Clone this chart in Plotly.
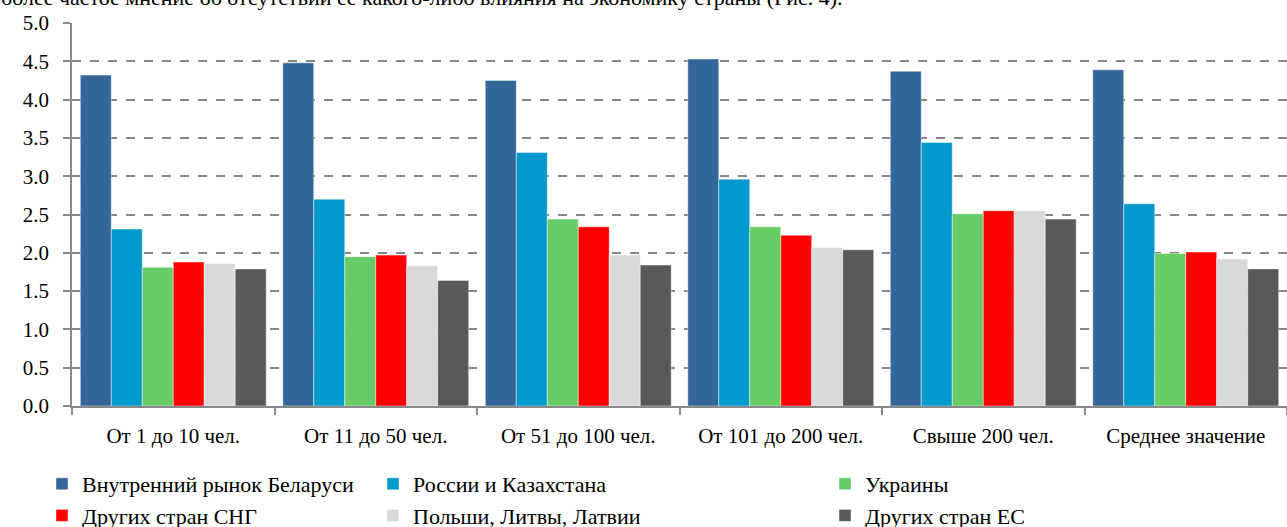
import plotly.graph_objects as go

# Company size groups (x categories)
categories = ["От 1 до 10 чел.", "От 11 до 50 чел.", "От 51 до 100 чел.",
              "От 101 до 200 чел.", "Свыше 200 чел.", "Среднее значение"]

# Mean scores per market
belarus_domestic = [4.32, 4.48, 4.25, 4.53, 4.37, 4.39]
russia_kazakhstan = [2.31, 2.70, 3.31, 2.96, 3.44, 2.64]
ukraine = [1.81, 1.95, 2.44, 2.34, 2.51, 1.99]
other_cis = [1.88, 1.97, 2.34, 2.23, 2.55, 2.01]
poland_lithuania_latvia = [1.86, 1.83, 1.97, 2.07, 2.55, 1.92]
other_eu = [1.79, 1.64, 1.84, 2.04, 2.44, 1.79]

series_names = ["Внутренний рынок Беларуси", "России и Казахстана", "Украины",
                "Других стран СНГ", "Польши, Литвы, Латвии", "Других стран ЕС"]
series_values = [belarus_domestic, russia_kazakhstan, ukraine,
                 other_cis, poland_lithuania_latvia, other_eu]
colors = ["#336699", "#0099CC", "#66CC66", "#FF0000", "#D9D9D9", "#595959"]
legend_ids = ["legend", "legend2", "legend3", "legend", "legend2", "legend3"]

y_ticks = [0, 0.5, 1, 1.5, 2, 2.5, 3, 3.5, 4, 4.5, 5]
y_tick_text = [f"{v:.1f}" for v in y_ticks]

FONT = "Liberation Serif"
W, H = 1287, 527
M_L, M_R, M_T, M_B = 72, 0, 23, 121
PLOT_W = W - M_L - M_R
PLOT_H = H - M_T - M_B

fig = go.Figure()
for name, vals, col, lg in zip(series_names, series_values, colors, legend_ids):
    fig.add_trace(go.Bar(
        x=categories, y=vals, name=name, legend=lg,
        marker=dict(color=col, line=dict(color="rgba(255,255,255,0.45)", width=1)),
    ))


def px_x(px):
    return (px - M_L) / PLOT_W


def px_y(py):
    return (H - M_B - py) / PLOT_H


legend_common = dict(
    orientation="v", xanchor="left", yanchor="top",
    font=dict(family=FONT, size=22, color="#000000"),
    bgcolor="rgba(0,0,0,0)", borderwidth=0, tracegroupgap=0,
    itemclick=False, itemdoubleclick=False,
)

fig.update_layout(
    width=W, height=H,
    margin=dict(l=M_L, r=M_R, t=M_T, b=M_B, pad=0, autoexpand=False),
    paper_bgcolor="white", plot_bgcolor="white",
    barmode="group", bargap=0.082, bargroupgap=0,
    font=dict(family=FONT, size=21, color="#000000"),
    showlegend=True,
    legend=dict(x=px_x(42), y=px_y(463), **legend_common),
    legend2=dict(x=px_x(373), y=px_y(463), **legend_common),
    legend3=dict(x=px_x(825), y=px_y(463), **legend_common),
    xaxis=dict(
        showline=True, linecolor="#898989", linewidth=1.5,
        ticks="outside", tickson="boundaries", ticklen=7, tickwidth=1.5, tickcolor="#898989",
        ticklabelstandoff=10, showgrid=False,
        tickfont=dict(family=FONT, size=21, color="#000000"),
    ),
    yaxis=dict(
        range=[0, 5.0], tickvals=y_ticks, ticktext=y_tick_text,
        showline=True, linecolor="#898989", linewidth=1.5,
        ticks="outside", ticklen=7, tickwidth=1.5, tickcolor="#898989",
        ticklabelstandoff=10,
        showgrid=True, gridcolor="#868686", gridwidth=1.5, griddash="dash",
        zeroline=False,
        tickfont=dict(family=FONT, size=21, color="#000000"),
    ),
)

# Tail of the preceding paragraph of body text, cut off at the top edge
fig.add_annotation(
    text="более частое мнение об отсутствии ее какого-либо влияния на экономику страны (Рис. 4).",
    xref="paper", yref="paper", x=px_x(-1), y=px_y(12),
    xanchor="left", yanchor="bottom", showarrow=False,
    font=dict(family=FONT, size=22, color="#000000"),
)

fig.write_html("out.html")
